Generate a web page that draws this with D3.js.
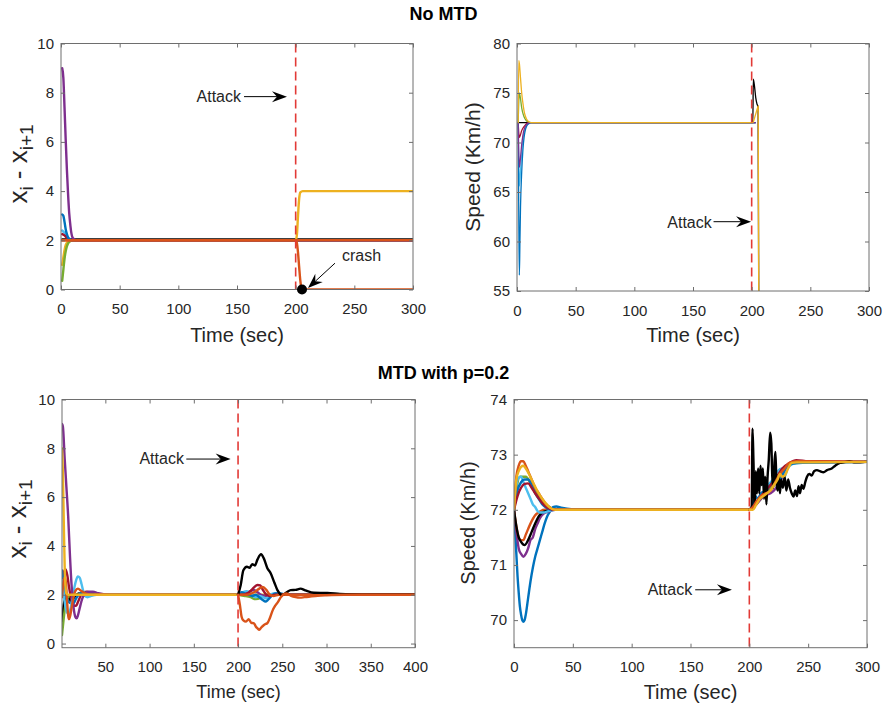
<!DOCTYPE html>
<html>
<head>
<meta charset="utf-8">
<script src="https://cdn.jsdelivr.net/npm/d3@7"></script>
<style>
  body { margin: 0; background: #fff; }
  svg { font-family: "Liberation Sans", Arial, Helvetica, sans-serif; }
</style>
</head>
<body>
<svg id="fig" width="887" height="704"></svg>
<script>
// ---------------------------------------------------------------------------
// Data: platoon spacing (x_i - x_{i+1}) and speeds, without and with MTD.
// Each series is a list of [time (s), value] samples.
// ---------------------------------------------------------------------------
const timeTicks300 = [0, 50, 100, 150, 200, 250, 300];
const timeTicks400 = [50, 100, 150, 200, 250, 300, 350, 400];
const gapTicks = [0, 2, 4, 6, 8, 10];
const speedTicksNoMtd = [55, 60, 65, 70, 75, 80];
const speedTicksMtd = [70, 71, 72, 73, 74];
const attackTime = 200;
const crashPoint = [205.4, 0];

// --- No MTD: spacing ---
const noMtdGapPurple  = [[1,9.0],[2,8.6],[3,7.4],[4,6.1],[5,4.9],[6,3.9],[7,3.1],[8,2.6],[9,2.25],[10,2.1],[12,2.02],[14,2.0],[300,2.0]];
const noMtdGapBlue    = [[1,3.05],[2,3.0],[3,2.75],[4,2.45],[5,2.25],[6,2.12],[8,2.03],[10,2.0],[300,2.0]];
const noMtdGapCyan    = [[1,2.4],[3,2.3],[5,2.12],[7,2.03],[9,2.0],[300,2.0]];
const noMtdGapRed     = [[1,2.25],[3,2.2],[5,2.1],[7,2.03],[9,2.0],[300,2.0]];
const noMtdGapYellow  = [[1,1.0],[2,1.3],[3,1.6],[4,1.8],[6,1.95],[8,2.0],[200,2.0],[201,2.2],[202,3.0],[203,3.7],[204,3.95],[206,4.0],[300,4.0]];
const noMtdGapGreen   = [[1,0.35],[2,0.8],[3,1.25],[4,1.55],[5,1.75],[6,1.87],[8,1.97],[10,2.0],[300,2.0]];
const noMtdGapBlack   = [[1,2.03],[300,2.03]];
const noMtdGapOrange  = [[1,2.0],[200,2.0],[201,1.9],[202,1.5],[203,0.9],[204,0.35],[205,0.05],[206,0],[300,0]];
const noMtdGapOrange2 = [[1,2.0],[300,2.0]];

// --- No MTD: speed ---
const noMtdSpeedBlack  = [[1,72],[201,72],[201.4,76.4],[202.5,75.6],[203.5,74.5],[204.5,73.9],[205.5,73.6],[206,55]];
const noMtdSpeedBlue   = [[1,72],[1.5,63],[2,56.6],[2.5,60],[3,63.5],[4,67],[5,69.2],[6,70.5],[7,71.2],[8,71.6],[10,71.9],[12,72],[203,72]];
const noMtdSpeedCyan   = [[1,72],[1.5,68],[2,65.6],[3,67.2],[4,69],[5,70.3],[6,71],[8,71.7],[10,71.95],[12,72],[203,72]];
const noMtdSpeedPurple = [[1,72],[2,67.5],[3,68.5],[4,69.8],[5,70.7],[6,71.3],[8,71.8],[11,72],[203,72]];
const noMtdSpeedRed    = [[1,72],[2,70.5],[3,70.8],[4,71.2],[6,71.6],[8,71.9],[10,72],[203,72]];
const noMtdSpeedGreen  = [[1,72],[2,75],[3,74.4],[4,73.5],[6,72.6],[8,72.2],[10,72.05],[12,72],[203,72]];
const noMtdSpeedYellow = [[1,72],[1.5,78.3],[2,78],[3,76.5],[4,75],[5,74],[6,73.2],[7,72.7],[8,72.4],[10,72.1],[12,72],[201,72],[202,72.3],[203,72.7],[204,73.1],[205,73.5],[205.6,73.7],[206,55]];

// --- MTD p=0.2: spacing, before the attack ---
const mtdGapBlackPre  = [[1,0.9],[2,1.3],[3,1.6],[5,1.85],[7,1.95],[9,1.85],[11,1.75],[13,1.8],[16,1.95],[20,2.05],[25,2.02],[30,2.0],[200,2.0]];
const mtdGapGreenPre  = [[1,0.35],[2,0.7],[3,1.05],[4,1.35],[5,1.6],[7,1.85],[9,1.95],[12,2.0],[200,2.0]];
const mtdGapRedPre    = [[1,2.3],[3,2.9],[5,3.05],[7,2.8],[9,2.3],[11,1.9],[13,1.65],[15,1.55],[17,1.55],[19,1.7],[22,1.95],[25,2.1],[29,2.12],[34,2.05],[40,2.0],[200,2.0]];
const mtdGapBluePre   = [[1,3.0],[3,2.4],[5,2.0],[7,1.8],[9,1.7],[11,1.65],[13,1.62],[15,1.7],[17,1.85],[20,2.0],[23,2.08],[27,2.08],[32,2.03],[40,2.0],[200,2.0]];
const mtdGapCyanPre   = [[1,2.6],[3,2.0],[5,1.5],[7,1.25],[9,1.25],[11,1.5],[13,1.9],[15,2.3],[17,2.6],[19,2.75],[21,2.7],[23,2.45],[25,2.15],[27,1.95],[30,1.9],[34,1.95],[40,2.0],[200,2.0]];
const mtdGapPurplePre = [[1,9.0],[2,8.9],[4,7.6],[6,6.4],[8,5.2],[10,3.6],[12,2.3],[14,1.5],[16,1.1],[17.5,1.03],[19,1.15],[21,1.45],[24,1.85],[27,2.05],[31,2.12],[36,2.12],[42,2.06],[48,2.02],[55,2.0],[200,2.0]];
const mtdGapOrangePre = [[1,1.9],[2,2.3],[3,2.6],[4,2.7],[5,2.6],[6,2.2],[7,1.6],[8,1.15],[9,1.0],[10,1.1],[12,1.5],[14,1.9],[16,2.15],[19,2.25],[23,2.15],[28,2.05],[35,2.0],[200,2.0]];
const mtdGapYellowPre = [[1,8.0],[2,7.0],[3,5.0],[4,3.2],[5,2.3],[6,2.05],[8,2.0],[200,2.0]];

// --- MTD p=0.2: spacing, after the attack ---
const mtdGapYellowPost  = [[200,2.0],[210,2.02],[220,2.0],[400,2.0]];
const mtdGapGreenPost   = [[200,2.0],[208,1.95],[214,1.9],[220,1.82],[226,1.88],[232,2.0],[400,2.0]];
const mtdGapPurplePost  = [[200,2.0],[208,2.05],[214,2.15],[218,2.2],[222,2.1],[226,2.0],[232,1.95],[240,2.0],[400,2.0]];
const mtdGapCyanPost    = [[200,2.0],[205,2.1],[210,2.15],[215,2.0],[220,1.9],[224,1.95],[228,1.9],[232,1.85],[236,2.0],[242,2.06],[250,2.02],[258,2.0],[400,2.0]];
const mtdGapBluePost    = [[200,2.0],[204,2.1],[208,2.05],[212,2.0],[216,1.95],[220,2.0],[224,1.9],[228,1.78],[231,1.72],[234,1.8],[238,1.95],[242,2.05],[248,2.05],[255,2.0],[400,2.0]];
const mtdGapRedPost     = [[200,2.0],[206,2.0],[210,2.05],[214,2.15],[218,2.3],[222,2.4],[225,2.38],[228,2.2],[232,2.0],[236,1.95],[242,2.0],[400,2.0]];
const mtdGapOrange2Post = [[200,2.0],[210,2.0],[218,2.1],[224,2.25],[228,2.32],[232,2.2],[236,2.0],[240,1.95],[246,2.0],[400,2.0]];
const mtdGapBlackPost   = [[200,2.0],[203,2.4],[206,3.0],[210,3.15],[213,3.1],[216,3.25],[219,3.2],[222,3.45],[226,3.66],[229,3.5],[233,3.1],[237,2.87],[241,2.5],[244.5,2.19],[250,1.99],[255,2.1],[259.5,2.19],[265,2.2],[270.6,2.25],[276,2.18],[285.8,2.08],[301,2.07],[315,2.03],[340,2.0],[400,2.0]];
const mtdGapOrangePost  = [[200,2.0],[202,1.6],[204,1.1],[206,0.95],[209,0.9],[212,1.0],[215,0.85],[218,0.83],[220,0.7],[222,0.62],[224,0.56],[226,0.65],[228,0.72],[231,0.8],[233,0.83],[236,1.05],[239,1.35],[242,1.55],[245,1.7],[248,1.88],[251,2.0],[255,2.05],[260,1.95],[265,1.9],[270,1.88],[275,1.9],[280,1.92],[290,1.96],[300,1.98],[320,2.0],[400,2.0]];

// --- MTD p=0.2: speed, before the attack ---
const mtdSpeedGreenPre   = [[0,72],[5,72.6],[10,72.6],[15,72.45],[20,72.3],[25,72.15],[30,72.05],[35,72.0],[200,72]];
const mtdSpeedBluePre    = [[0,72],[1,71.6],[2,71.2],[3,70.8],[4,70.5],[5,70.25],[6,70.1],[7,70.0],[8,69.97],[9,70.0],[10,70.1],[12,70.4],[14,70.7],[16,70.95],[18,71.15],[20,71.3],[22,71.45],[24,71.6],[26,71.75],[28,71.87],[30,71.95],[33,72.05],[36,72.06],[40,72.04],[45,72.02],[55,72.0],[200,72]];
const mtdSpeedPurplePre  = [[0,72],[2,71.6],[4,71.3],[6,71.2],[8,71.15],[10,71.2],[12,71.3],[14,71.45],[16,71.5],[18,71.65],[20,71.75],[22,71.85],[25,71.93],[30,71.97],[35,72.0],[200,72]];
const mtdSpeedOrange2Pre = [[0,72],[2,71.7],[4,71.5],[6,71.45],[8,71.45],[10,71.55],[14,71.75],[18,71.9],[22,71.97],[26,72.0],[200,72]];
const mtdSpeedBlackPre   = [[0,72],[2,71.7],[4,71.5],[6,71.42],[9,71.36],[12,71.45],[15,71.6],[18,71.75],[21,71.88],[24,71.95],[28,71.98],[32,72.0],[200,72]];
const mtdSpeedCyanPre    = [[0,72],[2,72.45],[4,72.58],[6,72.6],[8,72.5],[10,72.4],[12,72.3],[14,72.2],[16,72.1],[18,72.05],[20,71.98],[22,71.95],[25,71.95],[30,71.98],[35,72.0],[200,72]];
const mtdSpeedBlue2Pre   = [[0,72],[3,72.35],[6,72.5],[9,72.55],[12,72.55],[15,72.45],[18,72.3],[21,72.2],[24,72.1],[28,72.03],[32,72.0],[200,72]];
const mtdSpeedRedPre     = [[0,72],[3,72.25],[6,72.4],[9,72.47],[12,72.48],[15,72.4],[18,72.3],[22,72.18],[26,72.08],[30,72.02],[35,72.0],[200,72]];
const mtdSpeedOrangePre  = [[0,72],[2,72.6],[4,72.8],[6,72.88],[8,72.88],[10,72.8],[12,72.7],[15,72.55],[18,72.4],[21,72.3],[24,72.2],[27,72.1],[30,72.05],[35,72.0],[200,72]];
const mtdSpeedYellowPre  = [[0,72],[2,72.55],[4,72.7],[6,72.78],[8,72.8],[10,72.75],[12,72.68],[15,72.55],[18,72.42],[21,72.3],[24,72.2],[27,72.12],[30,72.05],[35,72.0],[200,72]];

// --- MTD p=0.2: speed, after the attack ---
const mtdSpeedGreenPost  = [[200,72],[208,72.15],[214,72.3],[220,72.45],[226,72.6],[232,72.78],[238,72.85],[300,72.87]];
const mtdSpeedPurplePost = [[200,72],[206,72.1],[212,72.25],[218,72.3],[223,72.4],[226,72.5],[230,72.7],[236,72.85],[300,72.87]];
const mtdSpeedCyanPost   = [[200,72],[204,72.05],[208,72.2],[212,72.3],[216,72.45],[220,72.55],[224,72.7],[228,72.75],[230,72.6],[233,72.78],[240,72.85],[300,72.87]];
const mtdSpeedBluePost   = [[200,72],[203,72.1],[205,72.25],[207,72.2],[210,72.3],[214,72.35],[218,72.45],[222,72.6],[226,72.55],[230,72.72],[234,72.82],[240,72.85],[300,72.87]];
const mtdSpeedRedPost    = [[200,72],[205,72.1],[210,72.25],[216,72.4],[222,72.55],[228,72.75],[234,72.85],[240,72.9],[250,72.88],[300,72.87]];
const mtdSpeedBlackPost  = [[200,72.0],[202,72.02],[202.7,73.47],[203.5,72.9],[204.5,72.05],[205.5,72.7],[206.5,72.3],[207.5,72.75],[208.5,72.3],[209.5,72.8],[210.5,72.45],[211.5,72.75],[212.5,72.2],[213.5,72.6],[214.5,72.1],[215.5,72.6],[216.5,72.9],[217.7,73.4],[218.7,73.2],[219.5,72.6],[220.5,72.4],[221.5,72.9],[222.2,73.05],[223,72.5],[224,72.35],[225,72.6],[226,72.3],[227,72.55],[228.5,72.4],[230,72.6],[231.5,72.35],[233,72.55],[234.5,72.4],[236,72.3],[237.6,72.24],[239,72.35],[240.5,72.25],[241.8,72.43],[243,72.3],[244.5,72.45],[246,72.38],[247.5,72.5],[249,72.6],[251,72.65],[253,72.62],[255,72.7],[257.5,72.72],[260,72.7],[263,72.68],[266,72.72],[270,72.75],[273,72.8],[277,72.85],[280,72.86],[285,72.88],[290,72.86],[300,72.87]];
const mtdSpeedOrangePost = [[200,72],[203,72.05],[206,72.15],[210,72.25],[214,72.3],[218,72.35],[222,72.5],[226,72.65],[230,72.75],[234,72.85],[240,72.88],[250,72.88],[300,72.87]];
const mtdSpeedYellowPost = [[200,72],[203,72],[206,72.1],[209,72.2],[212,72.25],[215,72.3],[218,72.35],[221,72.45],[224,72.55],[226,72.65],[228,72.6],[230,72.62],[233,72.75],[236,72.85],[240,72.86],[250,72.86],[300,72.87]];

// ---------------------------------------------------------------------------
// Styling
// ---------------------------------------------------------------------------
const COL = {
  blue: "#0072BD", orange: "#D95319", yellow: "#EDB120", purple: "#7E2F8E",
  green: "#77AC30", cyan: "#4DBEEE", red: "#A2142F", black: "#000000"
};
const AXIS_COLOR = "#6e6e6e";
const TEXT_COLOR = "#262626";
const ATTACK_COLOR = "#e23a36";

const svg = d3.select("#fig");

// Draw one axes box with its series, attack marker and annotations.
function drawPanel(cfg) {
  const x = d3.scaleLinear().domain(cfg.xDomain).range([cfg.left, cfg.right]);
  const y = d3.scaleLinear().domain(cfg.yDomain).range([cfg.bottom, cfg.top]);
  const g = svg.append("g");

  const clipId = "clip-" + cfg.id;
  svg.append("clipPath").attr("id", clipId)
    .append("rect")
    .attr("x", cfg.left).attr("y", cfg.top)
    .attr("width", cfg.right - cfg.left).attr("height", cfg.bottom - cfg.top);

  const line = d3.line()
    .x(d => x(d[0])).y(d => y(d[1]))
    .curve(d3.curveMonotoneX);

  const plot = g.append("g").attr("clip-path", `url(#${clipId})`);
  plot.selectAll("path.series")
    .data(cfg.series)
    .join("path")
    .attr("class", "series")
    .attr("d", s => line(s.pts))
    .attr("fill", "none")
    .attr("stroke", s => COL[s.color])
    .attr("stroke-width", cfg.lineWidth)
    .attr("stroke-linejoin", "round")
    .attr("stroke-linecap", "round");

  // Attack instant
  plot.append("line")
    .attr("x1", x(attackTime)).attr("x2", x(attackTime))
    .attr("y1", cfg.top).attr("y2", cfg.bottom)
    .attr("stroke", ATTACK_COLOR)
    .attr("stroke-width", 1.6)
    .attr("stroke-dasharray", "9,5");

  // Axes (inward ticks on all four sides, box frame)
  const tickLen = -4;
  const fmt = d3.format("~g");
  const xb = g.append("g").attr("transform", `translate(0,${cfg.bottom})`)
    .call(d3.axisBottom(x).tickValues(cfg.xTicks).tickFormat(fmt).tickSizeInner(tickLen).tickSizeOuter(0).tickPadding(14));
  const xt = g.append("g").attr("transform", `translate(0,${cfg.top})`)
    .call(d3.axisTop(x).tickValues(cfg.xTicks).tickSizeInner(tickLen).tickSizeOuter(0).tickFormat(""));
  const yl = g.append("g").attr("transform", `translate(${cfg.left},0)`)
    .call(d3.axisLeft(y).tickValues(cfg.yTicks).tickFormat(fmt).tickSizeInner(tickLen).tickSizeOuter(0).tickPadding(7));
  const yr = g.append("g").attr("transform", `translate(${cfg.right},0)`)
    .call(d3.axisRight(y).tickValues(cfg.yTicks).tickSizeInner(tickLen).tickSizeOuter(0).tickFormat(""));
  [xb, xt, yl, yr].forEach(a => {
    a.select(".domain").remove();
    a.selectAll(".tick line").attr("stroke", AXIS_COLOR);
    a.selectAll(".tick text")
      .attr("fill", TEXT_COLOR)
      .style("font-size", "15px")
      .style("font-family", '"Liberation Sans", Arial, sans-serif');
  });
  g.append("rect")
    .attr("x", cfg.left).attr("y", cfg.top)
    .attr("width", cfg.right - cfg.left).attr("height", cfg.bottom - cfg.top)
    .attr("fill", "none").attr("stroke", AXIS_COLOR).attr("stroke-width", 1);

  // X label
  g.append("text")
    .attr("x", (cfg.left + cfg.right) / 2).attr("y", cfg.xLabelY)
    .attr("text-anchor", "middle").attr("dy", "0.35em")
    .attr("fill", TEXT_COLOR)
    .style("font-size", cfg.xLabelSize + "px")
    .text("Time (sec)");

  // Y label
  const yl2 = g.append("text")
    .attr("transform", `translate(${cfg.yLabelX},${cfg.yLabelY}) rotate(-90)`)
    .attr("text-anchor", "middle")
    .attr("fill", TEXT_COLOR)
    .style("font-size", cfg.yLabelSize + "px");
  if (cfg.yLabel === "gap") {
    const sub = Math.round(cfg.yLabelSize * 0.74);
    yl2.append("tspan").text("x");
    yl2.append("tspan").attr("dy", 6).style("font-size", sub + "px").text("i");
    yl2.append("tspan").attr("dy", -6).text(" - x");
    yl2.append("tspan").attr("dy", 6).style("font-size", sub + "px").text("i+1");
  } else {
    yl2.text("Speed (Km/h)");
  }

  // "Attack" annotation with arrow
  const a = cfg.attackNote;
  g.append("text")
    .attr("x", x(a.textAt[0])).attr("y", y(a.textAt[1]))
    .attr("text-anchor", "end").attr("dy", "0.35em")
    .attr("fill", TEXT_COLOR)
    .style("font-size", "16px")
    .text("Attack");
  drawArrow(g, x(a.from[0]), y(a.from[1]), x(a.to[0]), y(a.to[1]));

  return { g, x, y };
}

// Line with a filled, notched arrow head at (x2, y2).
function drawArrow(g, x1, y1, x2, y2) {
  const ang = Math.atan2(y2 - y1, x2 - x1);
  const c = Math.cos(ang), s = Math.sin(ang);
  const L = 15, W = 5.5, N = 10;
  const pt = (d, o) => [x2 - d * c - o * s, y2 - d * s + o * c];
  const neck = pt(N, 0);
  g.append("line")
    .attr("x1", x1).attr("y1", y1).attr("x2", neck[0]).attr("y2", neck[1])
    .attr("stroke", "#000").attr("stroke-width", 1);
  g.append("path")
    .attr("d", d3.line()([[x2, y2], pt(L, W), neck, pt(L, -W)]) + "Z")
    .attr("fill", "#000");
}

// ---------------------------------------------------------------------------
// Panels
// ---------------------------------------------------------------------------
const S = (color, pts) => ({ color, pts });

const p1 = drawPanel({
  id: "nomtd-gap",
  left: 61, right: 413, top: 43.5, bottom: 289.5,
  xDomain: [0, 300], yDomain: [0, 10],
  xTicks: timeTicks300, yTicks: gapTicks,
  lineWidth: 2.4,
  series: [
    S("black", noMtdGapBlack),
    S("yellow", noMtdGapYellow), S("green", noMtdGapGreen), S("cyan", noMtdGapCyan),
    S("red", noMtdGapRed), S("blue", noMtdGapBlue), S("purple", noMtdGapPurple),
    S("orange", noMtdGapOrange2), S("orange", noMtdGapOrange)
  ],
  xLabelY: 335, xLabelSize: 20,
  yLabel: "gap", yLabelX: 27, yLabelY: 164, yLabelSize: 26,
  attackNote: { textAt: [153.4, 7.84], from: [156, 7.84], to: [192.6, 7.84] }
});

// Crash marker and label
p1.g.append("circle")
  .attr("cx", p1.x(crashPoint[0])).attr("cy", p1.y(crashPoint[1]))
  .attr("r", 5).attr("fill", "#000");
p1.g.append("text")
  .attr("x", p1.x(239.5)).attr("y", p1.y(1.37))
  .attr("dy", "0.35em").attr("fill", TEXT_COLOR)
  .style("font-size", "16px")
  .text("crash");
drawArrow(p1.g, p1.x(233.5), p1.y(1.07), p1.x(210.5), p1.y(0.06));

drawPanel({
  id: "nomtd-speed",
  left: 517, right: 869, top: 43.5, bottom: 291,
  xDomain: [0, 300], yDomain: [55, 80],
  xTicks: timeTicks300, yTicks: speedTicksNoMtd,
  lineWidth: 1.3,
  series: [
    S("black", noMtdSpeedBlack), S("green", noMtdSpeedGreen), S("red", noMtdSpeedRed),
    S("cyan", noMtdSpeedCyan), S("blue", noMtdSpeedBlue), S("purple", noMtdSpeedPurple),
    S("yellow", noMtdSpeedYellow)
  ],
  xLabelY: 335, xLabelSize: 20,
  yLabel: "speed", yLabelX: 480, yLabelY: 167, yLabelSize: 21,
  attackNote: { textAt: [166, 61.9], from: [167.5, 62.0], to: [199.5, 62.0] }
});

drawPanel({
  id: "mtd-gap",
  left: 62, right: 415, top: 399.5, bottom: 647.7,
  xDomain: [1, 400], yDomain: [-0.17, 10],
  xTicks: timeTicks400, yTicks: gapTicks,
  lineWidth: 2.4,
  series: [
    S("black", mtdGapBlackPre), S("green", mtdGapGreenPre), S("red", mtdGapRedPre),
    S("blue", mtdGapBluePre), S("cyan", mtdGapCyanPre), S("purple", mtdGapPurplePre),
    S("orange", mtdGapOrangePre), S("yellow", mtdGapYellowPre),
    S("yellow", mtdGapYellowPost), S("green", mtdGapGreenPost), S("purple", mtdGapPurplePost),
    S("cyan", mtdGapCyanPost), S("blue", mtdGapBluePost), S("red", mtdGapRedPost),
    S("orange", mtdGapOrange2Post), S("black", mtdGapBlackPost), S("orange", mtdGapOrangePost)
  ],
  xLabelY: 692, xLabelSize: 18,
  yLabel: "gap", yLabelX: 26, yLabelY: 519, yLabelSize: 26,
  attackNote: { textAt: [138.8, 7.6], from: [141.5, 7.56], to: [191.6, 7.56] }
});

drawPanel({
  id: "mtd-speed",
  left: 514, right: 867, top: 399.5, bottom: 647.7,
  xDomain: [0, 300], yDomain: [69.5, 74],
  xTicks: timeTicks300, yTicks: speedTicksMtd,
  lineWidth: 2.4,
  series: [
    S("green", mtdSpeedGreenPre), S("blue", mtdSpeedBluePre), S("purple", mtdSpeedPurplePre),
    S("orange", mtdSpeedOrange2Pre), S("black", mtdSpeedBlackPre), S("cyan", mtdSpeedCyanPre),
    S("blue", mtdSpeedBlue2Pre), S("red", mtdSpeedRedPre), S("orange", mtdSpeedOrangePre),
    S("yellow", mtdSpeedYellowPre),
    S("green", mtdSpeedGreenPost), S("purple", mtdSpeedPurplePost), S("cyan", mtdSpeedCyanPost),
    S("blue", mtdSpeedBluePost), S("red", mtdSpeedRedPost), S("black", mtdSpeedBlackPost),
    S("orange", mtdSpeedOrangePost), S("yellow", mtdSpeedYellowPost)
  ],
  xLabelY: 692, xLabelSize: 20,
  yLabel: "speed", yLabelX: 475, yLabelY: 523, yLabelSize: 20,
  attackNote: { textAt: [151.4, 70.55], from: [154, 70.55], to: [185.2, 70.55] }
});

// Figure titles
svg.append("text")
  .attr("x", 443.5).attr("y", 14).attr("dy", "0.35em")
  .attr("text-anchor", "middle").attr("fill", "#000")
  .style("font-size", "18px").style("font-weight", "bold")
  .text("No MTD");
svg.append("text")
  .attr("x", 443.5).attr("y", 373).attr("dy", "0.35em")
  .attr("text-anchor", "middle").attr("fill", "#000")
  .style("font-size", "18px").style("font-weight", "bold")
  .text("MTD with p=0.2");
</script>
</body>
</html>
